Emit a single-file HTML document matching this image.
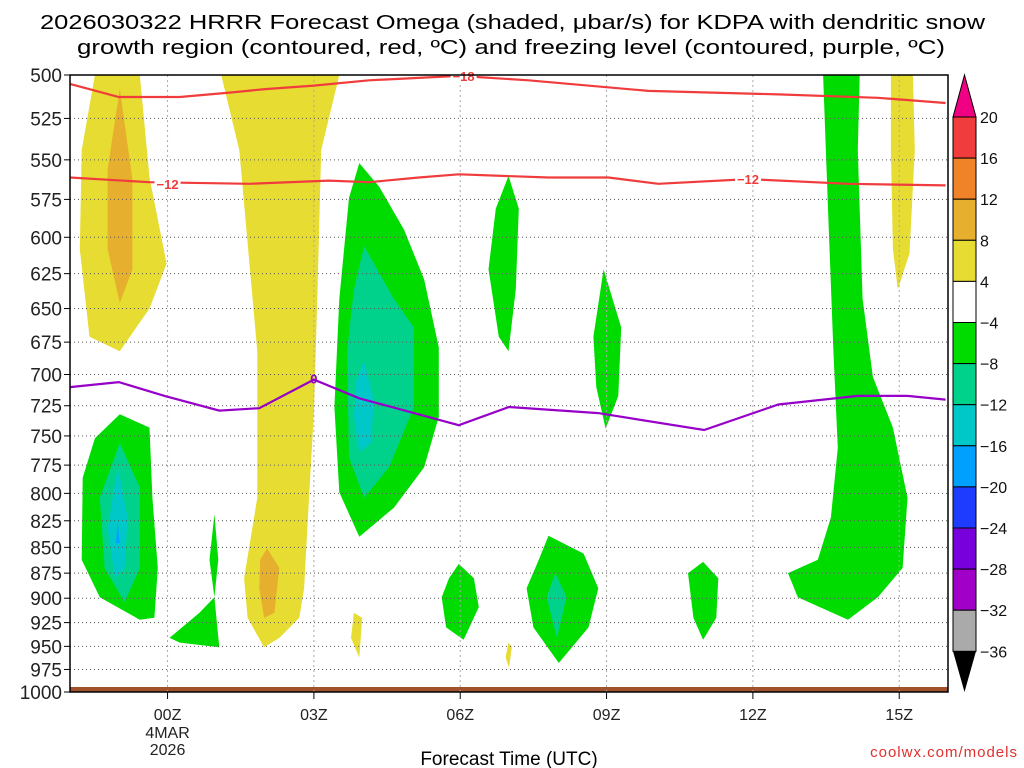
<!DOCTYPE html>
<html><head><meta charset="utf-8"><style>
html,body{margin:0;padding:0;background:#fff;}
svg{display:block;font-family:"Liberation Sans","DejaVu Sans",sans-serif;}
</style></head><body>
<svg id="chart" width="1024" height="768" viewBox="0 0 1024 768">
<text x="40" y="29" font-size="20" textLength="945" lengthAdjust="spacingAndGlyphs">2026030322 HRRR Forecast Omega (shaded, μbar/s) for KDPA with dendritic snow</text>
<text x="77" y="54" font-size="20" textLength="868" lengthAdjust="spacingAndGlyphs">growth region (contoured, red, ºC) and freezing level (contoured, purple, ºC)</text>
<g id="fills"></g>
<g id="grid"></g>
<g id="lines"></g>
<rect x="70" y="75" width="878" height="617" fill="none" stroke="#000" stroke-width="1.5"/>
<g id="yaxis"></g>
<g id="xaxis"></g>
<text x="509" y="765" font-size="19" text-anchor="middle">Forecast Time (UTC)</text>
<text x="1018" y="757" font-size="15" fill="#e03030" text-anchor="end" letter-spacing="1">coolwx.com/models</text>
<g id="cbar"></g>
</svg>
<script>
const pressureTicks=[500,525,550,575,600,625,650,675,700,725,750,775,800,825,850,875,900,925,950,975,1000];
const hourTicks=[0,3,6,9,12,15];
const hourLabels=["00Z","03Z","06Z","09Z","12Z","15Z"];
const cbarLevels=[20,16,12,8,4,-4,-8,-12,-16,-20,-24,-28,-32,-36];
const cbarColors=["#f03c3c","#f08228","#e6af2d","#e6dc32","#ffffff","#00dc00","#00d28c","#00c8c8","#00a0ff","#1e3cff","#7800dc","#a000c8","#aaaaaa"];
const yellowRegions=[
 [[-1.49,500],[-0.57,500],[-0.37,561],[-0.02,618],[-0.37,650],[-0.98,682],[-1.6,671],[-1.8,608],[-1.76,544]],
 [[1.1,500],[3.52,500],[3.15,544],[3.07,643],[3.0,731],[2.9,804],[2.8,890],[2.7,920],[2.29,941],[1.98,951],[1.64,920],[1.57,880],[1.84,804],[1.84,682],[1.47,544]],
 [[3.82,915],[3.99,920],[3.93,962],[3.76,941]],
 [[6.99,946],[7.06,951],[7.0,973],[6.93,962]],
 [[14.83,500],[15.28,500],[15.32,544],[15.21,611],[14.97,636],[14.87,608],[14.83,544]]
];
const orangeRegions=[
 [[-0.98,508],[-0.72,562],[-0.72,622],[-0.98,646],[-1.23,608],[-1.23,556]],
 [[2.04,851],[2.29,870],[2.19,915],[1.98,920],[1.88,890],[1.9,862]]
];
const greenRegions=[
 [[3.93,552],[4.34,567],[4.85,595],[5.26,629],[5.56,679],[5.56,734],[5.26,777],[4.64,813],[3.93,840],[3.52,799],[3.42,726],[3.52,643],[3.72,574]],
 [[-0.98,732],[-0.37,743],[-0.31,804],[-0.2,870],[-0.27,920],[-0.57,922],[-1.39,899],[-1.76,862],[-1.74,786],[-1.49,752]],
 [[0.04,941],[0.65,915],[0.96,899],[1.06,951],[0.25,946]],
 [[0.96,819],[1.04,862],[0.96,899],[0.86,862]],
 [[6.99,560],[7.2,581],[7.14,636],[6.99,682],[6.79,671],[6.58,622],[6.73,581]],
 [[8.94,622],[9.3,664],[9.24,717],[8.98,744],[8.79,710],[8.73,671]],
 [[5.97,866],[6.28,880],[6.38,909],[6.07,943],[5.71,930],[5.62,899],[5.77,880]],
 [[7.81,839],[8.53,856],[8.83,890],[8.63,930],[8.02,968],[7.5,930],[7.36,890],[7.61,862]],
 [[10.98,864],[11.29,880],[11.25,920],[10.98,943],[10.78,920],[10.67,875]],
 [[13.44,500],[14.19,500],[14.15,544],[14.25,643],[14.46,702],[14.87,743],[15.17,804],[15.07,870],[14.56,899],[13.95,922],[12.92,899],[12.72,875],[13.33,862],[13.6,822],[13.74,760],[13.65,682],[13.54,581]]
];
const tealRegions=[
 [[4.03,606],[4.64,643],[5.05,664],[5.05,726],[4.54,777],[4.03,804],[3.72,768],[3.68,682],[3.82,636]],
 [[-0.98,756],[-0.57,795],[-0.57,870],[-0.88,904],[-1.29,870],[-1.39,804]],
 [[7.95,875],[8.18,899],[7.98,941],[7.77,899]]
];
const cyanRegions=[
 [[4.03,690],[4.23,720],[4.17,756],[3.93,764],[3.82,734],[3.87,705]],
 [[-1.02,777],[-0.82,822],[-0.88,870],[-1.08,880],[-1.23,832]]
];
const blueRegions=[[[-1.02,827],[-0.98,846],[-1.06,846]]];
const lineHours=[-2,-1,0.25,1.27,2.0,3.0,4.13,5.97,7.4,9.86,12.52,14.56,15.95];
const dgzTop=[505,512.5,512.5,510,508,506,503,500.5,503,509,511,513,516];
const lineHours12=[-2,-0.37,1.68,3.31,4.13,5.15,5.97,7.81,9.04,10.06,11.9,13.95,15.95];
const dgzBottom=[561,564,565,563,564,561,559,561,561,565,562,565,566];
const fzHours=[-2,-1,-0.06,1.06,1.88,3.0,3.93,5.97,7.0,8.83,11.0,12.52,14.15,15.17,15.95];
const fzLevel=[710,706,717,729,727,704,719,741,726,731,745,724,717,717,720];

const NS="http://www.w3.org/2000/svg";
const X0=70,X1=948,Y0=75,Y1=692,H0=-2,H1=16;
function xOf(h){return X0+(h-H0)/(H1-H0)*(X1-X0);}
function yOf(p){return Y0+Math.log(p/500)/Math.log(2)*(Y1-Y0);}
function mk(tag,attrs,parent){const e=document.createElementNS(NS,tag);for(const k in attrs)e.setAttribute(k,attrs[k]);parent.appendChild(e);return e;}
const fills=document.getElementById('fills');
function drawRegions(list,color,name){
 list.forEach(function(poly){
  const pts=poly.map(function(q){return xOf(q[0]).toFixed(1)+","+yOf(q[1]).toFixed(1);}).join(" ");
  const e=mk('polygon',{points:pts,fill:color,'stroke-linejoin':'round'},fills);
  
  
 });
}
drawRegions(yellowRegions,"#e6dc32","omega-4-8");
drawRegions(orangeRegions,"#e6af2d","omega-8-12");
drawRegions(greenRegions,"#00dc00","omega-neg4-neg8");
drawRegions(tealRegions,"#00d28c","omega-neg8-neg12");
drawRegions(cyanRegions,"#00c8c8","omega-neg12-neg16");
drawRegions(blueRegions,"#00a0ff","omega-neg16-neg20");
const gs=mk('rect',{x:X0,y:687,width:X1-X0,height:5,fill:"#a0522d"},fills);



const grid=document.getElementById('grid');
pressureTicks.forEach(function(p){
 const l=mk('line',{x1:X0,x2:X1,y1:yOf(p),y2:yOf(p),stroke:"#555",'stroke-width':1,'stroke-dasharray':"1 3"},grid);
 
 
});
hourTicks.forEach(function(h){
 const l=mk('line',{x1:xOf(h),x2:xOf(h),y1:Y0,y2:Y1,stroke:"#aaa",'stroke-width':1,'stroke-dasharray':"2 3"},grid);
 
 
});

const lines=document.getElementById('lines');
function drawLine(hs,ps,color,name){
 const pts=hs.map(function(h,i){return xOf(h).toFixed(1)+","+yOf(ps[i]).toFixed(1);}).join(" ");
 const e=mk('polyline',{points:pts,fill:"none",stroke:color,'stroke-width':2.2},lines);
 
 
}
drawLine(lineHours,dgzTop,"#f03c3c","dgz-minus18-line");
drawLine(lineHours12,dgzBottom,"#f03c3c","dgz-minus12-line");
drawLine(fzHours,fzLevel,"#9600c8","freezing-level-line");
function label(h,p,t,color,name){
 const r=mk('rect',{x:xOf(h)-13,y:yOf(p)-7,width:26,height:13,fill:"#fff"},lines);
 
 
 const e=mk('text',{x:xOf(h),y:yOf(p)+5,'font-size':13,'font-weight':'bold',fill:color,'text-anchor':'middle'},lines);
 e.textContent=t;
 
 
}
label(6.07,500.5,"−18","#f03c3c","label-minus18");
label(0.0,565,"−12","#f03c3c","label-minus12-a");
label(11.9,562,"−12","#f03c3c","label-minus12-b");
const zl=mk('text',{x:xOf(3.0),y:yOf(704)+4,'font-size':13,'font-weight':'bold',fill:"#9600c8",'text-anchor':'middle'},lines);
zl.textContent="0";



const ya=document.getElementById('yaxis');
pressureTicks.forEach(function(p){
 const y=yOf(p);
 const t=mk('line',{x1:X0-6,x2:X0,y1:y,y2:y,stroke:"#000"},ya);
 
 
 const e=mk('text',{x:X0-8,y:y+7,'font-size':19,'text-anchor':'end',fill:"#222"},ya);
 e.textContent=p;
 
 
});
const xa=document.getElementById('xaxis');
hourTicks.forEach(function(h,i){
 const x=xOf(h);
 const t=mk('line',{x1:x,x2:x,y1:Y1,y2:Y1+7,stroke:"#000"},xa);
 
 
 const e=mk('text',{x:x,y:720,'font-size':16,'text-anchor':'middle',fill:"#222"},xa);
 e.textContent=hourLabels[i];
 
 
});
["4MAR","2026"].forEach(function(s,i){
 const e=mk('text',{x:xOf(0),y:738+i*17,'font-size':16,'text-anchor':'middle',fill:"#222"},xa);
 e.textContent=s;
 
 
});

const cb=document.getElementById('cbar');
const CX0=953,CX1=976,CT=117,CS=41.1;
const cbTop=mk('polygon',{points:CX0+","+CT+" "+CX1+","+CT+" "+((CX0+CX1)/2)+",75",fill:"#f00082",stroke:"#000"},cb);


cbarColors.forEach(function(c,i){
 const r=mk('rect',{x:CX0,y:CT+i*CS,width:CX1-CX0,height:CS,fill:c,stroke:"#000"},cb);
 
 
});
const yb=CT+cbarColors.length*CS;
const cbBot=mk('polygon',{points:CX0+","+yb+" "+CX1+","+yb+" "+((CX0+CX1)/2)+",692",fill:"#000"},cb);


cbarLevels.forEach(function(v,i){
 const e=mk('text',{x:CX1+4,y:CT+i*CS+6,'font-size':16,fill:"#111"},cb);
 e.textContent=(v<0?"−":"")+Math.abs(v);
 
 
});
</script>
</body></html>
